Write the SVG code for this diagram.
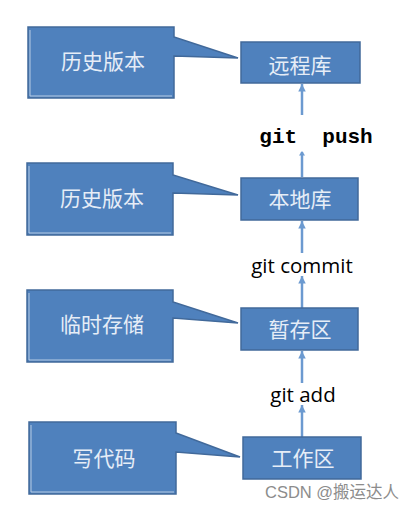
<svg xmlns="http://www.w3.org/2000/svg" width="416" height="510" viewBox="0 0 416 510">
<style>
.shape{fill:#4F81BD;stroke:#41699A;stroke-width:1.5}
.box{fill:#4F81BD;stroke:#41699A;stroke-width:1.5}
.hl{fill:none;stroke:#B8CCE4;stroke-width:1}
.lbl{font-family:"Noto Sans CJK SC","Noto Sans",sans-serif;font-size:21px;fill:#E6EDF7;text-anchor:middle;dominant-baseline:central}
.cmd{font-family:"Open Sans","Liberation Sans",sans-serif;font-size:20.5px;fill:#000;text-anchor:middle}
.conn{stroke:#6C9AD0;stroke-width:2.5;fill:none}
.wm{font-family:"Liberation Sans","Noto Sans CJK SC",sans-serif;font-size:16.5px;fill:#8C8C8C}
</style>
<defs>
<marker id="ah" viewBox="0 0 10 10" refX="10" refY="5" markerWidth="3" markerHeight="3" orient="auto" markerUnits="strokeWidth">
<path d="M0,0 L10,5 L0,10 z" fill="#6C9AD0"/>
</marker>
</defs>
<g id="connectors">
<line class="conn" x1="302" y1="115" x2="302" y2="84" marker-end="url(#ah)"/>
<line class="conn" x1="302" y1="152" x2="302" y2="177" />
<line class="conn" x1="302" y1="253" x2="302" y2="221" marker-end="url(#ah)"/>
<line class="conn" x1="302" y1="308" x2="302" y2="276" marker-end="url(#ah)"/>
<line class="conn" x1="302" y1="383" x2="302" y2="351" marker-end="url(#ah)"/>
<line class="conn" x1="302" y1="437" x2="302" y2="405" marker-end="url(#ah)"/>
<path d="M302,151 l-3,4.5 h6 z" fill="#6C9AD0"/>
</g>
<g id="callout-history-remote">
<path class="shape" d="M28,27 H174 V37 L238,58 L174,56 V98 H28 Z"/>
<path class="hl" d="M30,30 V96 H172"/>
<text class="lbl" x="103" y="60">历史版本</text>
</g>
<g id="remote">
<rect class="box" x="241" y="42" width="119" height="41"/>
<text class="lbl" x="300" y="64">远程库</text>
</g>
<text id="git-push" x="316" y="143" font-family="'Liberation Mono','DejaVu Sans Mono',monospace" font-weight="bold" font-size="21" text-anchor="middle" fill="#000" xml:space="preserve">git  push</text>
<g id="callout-history-local">
<path class="shape" d="M27,163 H173 V175 L238,195 L173,193 V235 H27 Z"/>
<path class="hl" d="M29,166 V233 H171"/>
<text class="lbl" x="102" y="197">历史版本</text>
</g>
<g id="local">
<rect class="box" x="241" y="178" width="117" height="42"/>
<text class="lbl" x="300" y="198">本地库</text>
</g>
<text id="git-commit" class="cmd" x="302" y="273">git commit</text>
<g id="callout-temp">
<path class="shape" d="M27,290 H173 V302 L238,323 L173,318 V362 H27 Z"/>
<path class="hl" d="M29,293 V360 H171"/>
<text class="lbl" x="102" y="323">临时存储</text>
</g>
<g id="staging">
<rect class="box" x="241" y="308" width="117" height="42"/>
<text class="lbl" x="300" y="328">暂存区</text>
</g>
<text id="git-add" class="cmd" x="303" y="402">git add</text>
<g id="callout-code">
<path class="shape" d="M29,422 H176 V433 L240,457 L176,452 V494 H29 Z"/>
<path class="hl" d="M31,425 V492 H174"/>
<text class="lbl" x="104" y="457">写代码</text>
</g>
<g id="workspace">
<rect class="box" x="243" y="437" width="118" height="42"/>
<text class="lbl" x="303" y="457">工作区</text>
</g>
<text class="wm" x="265" y="498">CSDN @搬运达人</text>
</svg>
